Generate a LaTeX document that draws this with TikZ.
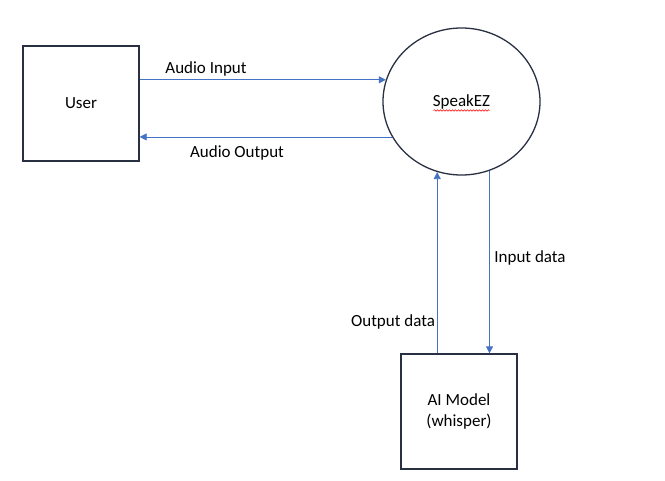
\documentclass[tikz,border=0pt]{standalone}
\usepackage{fontspec}
\setmainfont{Carlito}
\usetikzlibrary{arrows.meta,calc,positioning,shapes.geometric,decorations.pathmorphing}
\definecolor{boxline}{RGB}{40,48,66}
\definecolor{flowblue}{RGB}{68,114,196}
\tikzset{
  entity/.style={draw=boxline, line width=1.3pt, minimum width=116pt, minimum height=115pt, inner sep=0pt},
  process/.style={ellipse, draw=boxline, line width=1.3pt, minimum width=157pt, minimum height=147pt, inner sep=0pt},
  flow/.style={draw=flowblue, line width=0.8pt, -{Triangle[width=7pt,length=7pt]}},
  flowlabel/.style={inner sep=0pt, text=black}
}
\begin{document}
\begin{tikzpicture}[x=1pt,y=-1pt,font=\fontsize{17}{20.5}\selectfont]
\useasboundingbox (0,0) rectangle (665,480);
\node[entity] (user) at (81,103.5) {User};
\node[process] (spk) at (461.5,101.5) {SpeakEZ};
\node[entity, align=center] (ai) at (459,411.5) {AI Model\\(whisper)};
\draw[red, line width=0.5pt, decorate, decoration={snake, segment length=3pt, amplitude=0.8pt}]
  ($(spk.center)+(-28,9)$) -- ($(spk.center)+(28,9)$);
\draw[flow] (user.east |- spk.164) -- (spk.164);
\draw[flow] (spk.207.3) -- (spk.207.3 -| user.east);
\draw[flow] (spk.251.5 |- ai.north) -- (spk.251.5);
\draw[flow] (spk.292.6) -- (spk.292.6 |- ai.north);
\node[flowlabel] (lin) at (206,69) {Audio Input};
\node[flowlabel] (lout) at (237,153) {Audio Output};
\node[flowlabel] (ldin) at (530,258) {Input data};
\node[flowlabel] (ldout) at (393,322) {Output data};
\end{tikzpicture}
\end{document}
